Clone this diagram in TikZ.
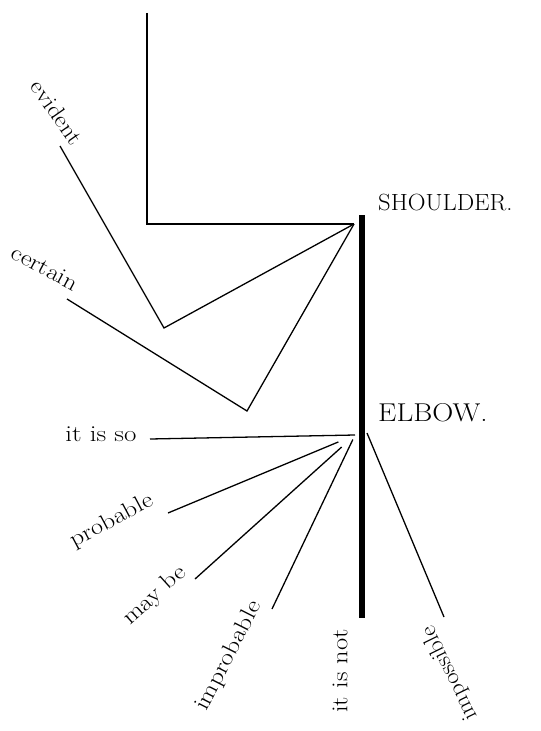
\documentclass[tikz,border=0pt]{standalone}
\usepackage{tikz}
\usetikzlibrary{positioning,calc}
\newcommand{\stretched}[2]{\scalebox{#1}[1]{#2}}
\tikzset{
  limb/.style={line width=1.1pt, draw=black, line join=miter},
  bone/.style={line width=4.3pt, draw=black},
  joint/.style={font=\fontsize{20}{22}\selectfont, anchor=base west, inner sep=0pt},
  degree/.style={font=\fontsize{19.5}{22}\selectfont, inner sep=0pt}
}
\begin{document}
\begin{tikzpicture}[x=0.03cm, y=-0.03cm]
  \useasboundingbox (0,0) rectangle (541,731);
  \coordinate (shoulder) at (354,224);
  \coordinate (elbow) at (355,435);
  \coordinate (elbowr) at (367,433);
  \coordinate (bonetop) at (362,215);
  \coordinate (bonebot) at (362,618);
  \coordinate (up0) at (147,13);
  \coordinate (up1) at (147,224);
  \coordinate (ev0) at (60,146);
  \coordinate (ev1) at (164,328);
  \coordinate (ce0) at (67,299);
  \coordinate (ce1) at (247,411);
  \coordinate (so0) at (150,439);
  \coordinate (pr0) at (168,513);
  \coordinate (mb0) at (195,579);
  \coordinate (im0) at (272,609);
  \coordinate (ip1) at (444,617);
  \node[joint] (sh) at (378,210) {\stretched{1.05}{SHOULDER.}};
  \node[joint, font=\fontsize{22}{24}\selectfont] (el) at (378,421) {\stretched{1.13}{ELBOW.}};
  \node[degree, rotate=-55] (evident) at (57,112) {\stretched{1.1}{evident}};
  \node[degree, rotate=-28] (certain) at (45,268) {\stretched{1.15}{certain}};
  \node[degree, anchor=base] (itisso) at (101,441) {\stretched{1.18}{it is so}};
  \node[degree, rotate=28] (probable) at (112,521) {\stretched{1.15}{probable}};
  \node[degree, rotate=42] (maybe) at (155,596) {\stretched{1.15}{may be}};
  \node[degree, rotate=63] (improbable) at (229,656) {\stretched{1.17}{improbable}};
  \node[degree, rotate=90] (itisnot) at (340,671) {\stretched{1.16}{it is not}};
  \node[degree, rotate=116] (impossible) at (450,673) {\stretched{1.08}{impossible}};
  \draw[bone] (bonetop) -- (bonebot);
  \draw[limb] (up0) -- (up1) -- (shoulder);
  \draw[limb] (ev0) -- (ev1) -- (shoulder);
  \draw[limb] (ce0) -- (ce1) -- (shoulder);
  \draw[limb] (so0) -- (elbow);
  \draw[limb, shorten >=0.54cm] (pr0) -- (elbow);
  \draw[limb, shorten >=0.54cm] (mb0) -- (elbow);
  \draw[limb, shorten >=0.15cm] (im0) -- (elbow);
  \draw[limb] (elbowr) -- (ip1);
\end{tikzpicture}
\end{document}
